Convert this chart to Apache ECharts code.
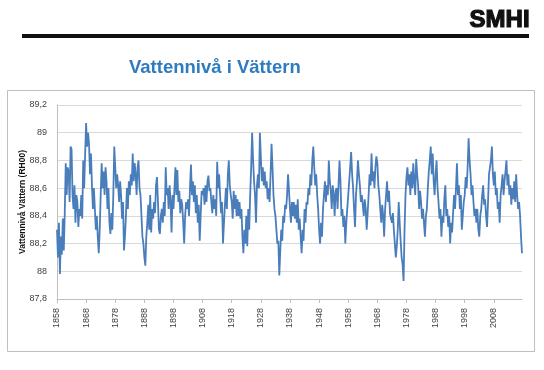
<!DOCTYPE html>
<html>
<head>
<meta charset="utf-8">
<script src="https://cdn.jsdelivr.net/npm/echarts@6/dist/echarts.min.js"></script>
<style>
html,body{margin:0;padding:0;background:#fff;}
#chart{width:544px;height:370px;}
</style>
</head>
<body>
<div id="chart"></div>
<script>
var title = 'Vattennivå i Vättern';
var yAxisName = 'Vattennivå Vättern (RH00)';
var firstYear = 1858;
var lastYear = 2017;
var pointsPerYear = 3;
var labelEveryYears = 10;
var yMin = 87.8, yMax = 89.2, yStep = 0.2;

// three readings per year, 1858-2017
var levels = [
88.30,88.10,88.35, 87.98,88.25,88.12, 88.38,88.15,88.42, 88.78,88.55,88.75, 88.72,88.50,88.90,
88.88,88.55,88.45, 88.62,88.35,88.55, 88.50,88.32,88.45, 88.40,88.55,88.38, 88.80,88.60,88.85,
89.07,88.90,89.00, 88.92,88.70,88.85, 88.62,88.45,88.60, 88.45,88.30,88.40, 88.25,88.13,88.30,
88.55,88.78,88.60, 88.72,88.55,88.75, 88.65,88.45,88.60, 88.35,88.27,88.42, 88.30,88.55,88.90,
88.75,88.60,88.70, 88.62,88.50,88.65, 88.55,88.38,88.50, 88.15,88.25,88.40, 88.60,88.45,88.65,
88.55,88.70,88.62, 88.85,88.65,88.78, 88.70,88.55,88.75, 88.80,88.60,88.55, 88.40,88.25,88.20,
88.10,88.04,88.25, 88.35,88.48,88.30, 88.55,88.28,88.45, 88.38,88.50,88.42, 88.62,88.68,88.50,
88.30,88.27,88.40, 88.45,88.35,88.50, 88.40,88.75,88.55, 88.60,88.45,88.62, 88.50,88.28,88.55,
88.45,88.60,88.75, 88.55,88.73,88.50, 88.58,88.42,88.52, 88.48,88.35,88.20, 88.40,88.50,88.45,
88.52,88.40,88.60, 88.77,88.55,88.65, 88.50,88.62,88.42, 88.55,88.35,88.48, 88.22,88.40,88.58,
88.55,88.60,88.48, 88.62,88.50,88.65, 88.69,88.58,88.60, 88.50,88.42,88.55, 88.45,88.52,88.40,
88.79,88.60,88.70, 88.55,88.42,88.50, 88.20,88.35,88.48, 88.60,88.45,88.70, 88.80,88.62,88.55,
88.50,88.38,88.58, 88.45,88.55,88.40, 88.52,88.40,88.50, 88.38,88.45,88.25, 88.13,88.30,88.20,
88.40,88.18,88.45, 88.30,88.55,88.75, 89.00,88.80,88.65, 88.55,88.35,88.62, 88.70,88.60,89.00,
88.82,88.65,88.75, 88.62,88.72,88.60, 88.65,88.52,88.60, 88.50,88.70,88.92, 88.75,88.55,88.45,
88.40,88.30,88.20, 88.22,87.97,88.15, 88.30,88.22,88.40, 88.35,88.48,88.45, 88.55,88.70,88.58,
88.45,88.35,88.50, 88.40,88.50,88.38, 88.48,88.35,88.52, 88.30,88.38,88.25, 88.13,88.30,88.22,
88.45,88.35,88.50, 88.48,88.60,88.55, 88.70,88.62,88.80, 88.90,88.75,88.62, 88.70,88.55,88.45,
88.30,88.20,88.35, 88.25,88.45,88.55, 88.65,88.50,88.62, 88.55,88.80,88.65, 88.58,88.45,88.62,
88.55,88.40,88.58, 88.60,88.45,88.62, 88.80,88.65,88.40, 88.45,88.32,88.40, 88.20,88.35,88.45,
88.55,88.65,88.75, 88.86,88.70,88.60, 88.45,88.32,88.55, 88.65,88.80,88.70, 88.62,88.50,88.55,
88.48,88.40,88.52, 88.45,88.30,88.42, 88.55,88.70,88.62, 88.85,88.65,88.72, 88.60,88.75,88.83,
88.78,88.62,88.55, 88.45,88.35,88.48, 88.40,88.25,88.45, 88.55,88.65,88.50, 88.58,88.42,88.38,
88.35,88.42,88.30, 88.20,88.10,88.18, 88.30,88.50,88.35, 88.22,88.10,88.05, 87.93,88.30,88.55,
88.68,88.75,88.62, 88.70,88.55,88.72, 88.60,88.78,88.65, 88.55,88.81,88.70, 88.62,88.45,88.58,
88.50,88.38,88.45, 88.35,88.25,88.40, 88.45,88.60,88.72, 88.80,88.90,88.70, 88.85,88.65,88.55,
88.70,88.80,88.60, 88.50,88.38,88.45, 88.25,88.40,88.35, 88.52,88.62,88.40, 88.45,88.32,88.40,
88.20,88.35,88.28, 88.42,88.55,88.45, 88.60,88.78,88.55, 88.62,88.45,88.55, 88.30,88.40,88.50,
88.55,88.68,88.60, 88.75,88.96,88.80, 88.70,88.55,88.62, 88.50,88.40,88.45, 88.35,88.45,88.30,
88.25,88.40,88.45, 88.55,88.62,88.48, 88.52,88.40,88.32, 88.50,88.70,88.75, 88.80,88.90,88.70,
88.62,88.72,88.55, 88.60,88.45,88.50, 88.35,88.55,88.62, 88.70,88.55,88.65, 88.72,88.80,88.62,
88.70,88.55,88.62, 88.48,88.60,88.52, 88.65,88.50,88.70, 88.55,88.45,88.50, 88.40,88.25,88.13
];

var categories = [];
for (var yr = firstYear; yr <= lastYear; yr++) {
  for (var k = 0; k < pointsPerYear; k++) categories.push(String(yr));
}
var step = pointsPerYear * labelEveryYears;
function showTick(idx) { return idx % step === 0; }

var chart = echarts.init(document.getElementById('chart'), null, {renderer: 'canvas'});
chart.setOption({
  animation: false,
  backgroundColor: '#ffffff',
  graphic: [
    {type: 'text', left: 469, top: 8, style: {text: 'SMHI', font: 'bold 24px "Liberation Sans", Arial, sans-serif', fill: '#111111', stroke: '#111111', lineWidth: 1.2}},
    {type: 'rect', shape: {x: 22, y: 34, width: 507, height: 4}, style: {fill: '#111111'}},
    {type: 'text', left: 129, top: 58, style: {text: title, font: 'bold 18.5px "Liberation Sans", Arial, sans-serif', fill: '#2E7BBF'}},
    {type: 'rect', shape: {x: 7.5, y: 90.5, width: 527, height: 261}, style: {fill: 'none', stroke: '#bfbfbf', lineWidth: 1}, z: -1}
  ],
  grid: {left: 57, right: 22, top: 105, bottom: 71, containLabel: false},
  xAxis: {
    type: 'category',
    data: categories,
    boundaryGap: false,
    axisLine: {show: true, lineStyle: {color: '#bfbfbf', width: 1}},
    axisTick: {show: true, interval: function (i) { return showTick(i); }, length: 4, lineStyle: {color: '#bfbfbf'}},
    axisLabel: {
      interval: function (i) { return showTick(i); },
      rotate: 90,
      margin: 9,
      color: '#404040',
      fontSize: 9,
      fontFamily: '"Liberation Sans", Arial, sans-serif'
    },
    splitLine: {show: false}
  },
  yAxis: {
    type: 'value',
    min: yMin,
    max: yMax,
    interval: yStep,
    name: yAxisName,
    nameLocation: 'middle',
    nameGap: 30,
    nameMoveOverlap: false,
    nameRotate: 90,
    nameTextStyle: {fontSize: 8.5, fontWeight: 'bold', color: '#111111', fontFamily: '"Liberation Sans", Arial, sans-serif'},
    axisLine: {show: true, lineStyle: {color: '#bfbfbf', width: 1}},
    axisTick: {show: false},
    axisLabel: {
      color: '#404040',
      fontSize: 9,
      margin: 10,
      fontFamily: '"Liberation Sans", Arial, sans-serif',
      formatter: function (v) { return String(Math.round(v * 10) / 10).replace('.', ','); }
    },
    splitLine: {show: true, lineStyle: {color: '#d9d9d9', width: 1}}
  },
  series: [{
    type: 'line',
    data: levels,
    showSymbol: false,
    symbol: 'none',
    lineStyle: {color: '#4A7EBB', width: 1.8},
    itemStyle: {color: '#4A7EBB'}
  }]
});
</script>
</body>
</html>
